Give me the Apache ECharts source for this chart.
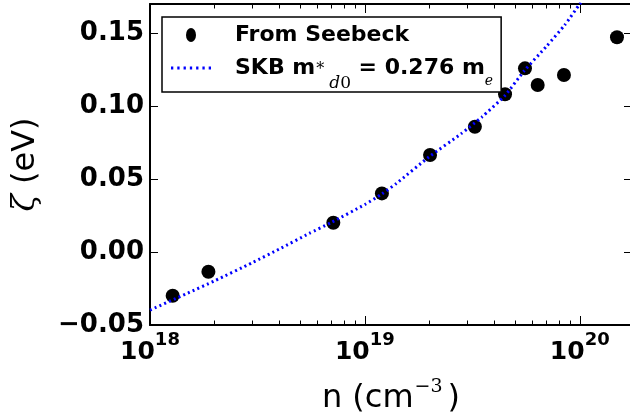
<!DOCTYPE html>
<html><head><meta charset="utf-8">
<script src="https://cdn.jsdelivr.net/npm/echarts@6/dist/echarts.min.js"></script>
<style>html,body{margin:0;padding:0;background:#fff}#c{width:630px;height:412px}</style>
</head><body><div id="c"></div>
<script>
// ---- data ----
const seebeckN    = [1.275e18, 1.87e18, 7.13e18, 1.20e19, 2.01e19, 3.25e19, 4.49e19, 5.56e19, 6.37e19, 8.44e19, 1.49e20];
const seebeckZeta = [-0.0300, -0.0135, 0.0201, 0.0402, 0.0665, 0.0859, 0.1081, 0.1259, 0.1145, 0.1213, 0.1472];
const skbN    = [1e18, 1.5e18, 2e18, 3e18, 4e18, 5.5e18, 7e18, 1e19, 1.2e19, 1.4e19, 2e19, 2.8e19, 3.5e19, 4.5e19, 5.5e19, 7e19, 8.5e19, 1e20, 1.1e20];
const skbZeta = [-0.0398, -0.0281, -0.0197, -0.0072, 0.0021, 0.0127, 0.0204, 0.0326, 0.0398, 0.0470, 0.0655, 0.0810, 0.0925, 0.1075, 0.1240, 0.1410, 0.1555, 0.1700, 0.1780];
const xMajorTicks = [1e18, 1e19, 1e20];
const xMinorTicks = [2e18, 3e18, 4e18, 5e18, 6e18, 7e18, 8e18, 9e18, 2e19, 3e19, 4e19, 5e19, 6e19, 7e19, 8e19, 9e19];
const yTicks = [-0.05, 0, 0.05, 0.10, 0.15];
const xRange = [1e18, 1.75e20];
const yRange = [-0.05, 0.17];
const seriesNames = ['From Seebeck', 'SKB'];

const FONT = 'DejaVu Sans';
const chart = echarts.init(document.getElementById('c'), null, {renderer: 'canvas'});

const tickLine = {color: '#000', width: 1};
const frameLine = {show: true, onZero: false, lineStyle: {color: '#000', width: 2}};
const noLine = {show: false, onZero: false};

function xAxisBase(pos) {
  return {
    type: 'log', logBase: 10, gridIndex: 0, position: pos,
    min: xRange[0], max: xRange[1],
    splitLine: {show: false}, minorTick: {show: false}, minorSplitLine: {show: false},
    axisLabel: {show: false}, axisLine: noLine
  };
}
function yAxisBase(pos) {
  return {
    type: 'value', gridIndex: 0, position: pos,
    min: yRange[0], max: yRange[1], interval: 0.05,
    splitLine: {show: false}, axisLabel: {show: false}, axisLine: frameLine,
    axisTick: {show: true, inside: true, length: 8, customValues: yTicks, lineStyle: tickLine}
  };
}

const xMain = Object.assign(xAxisBase('bottom'), {
  axisLine: frameLine,
  axisTick: {show: true, inside: true, length: 9, customValues: xMajorTicks, lineStyle: tickLine},
  axisLabel: {
    show: true, customValues: xMajorTicks, margin: 11,
    formatter: function (v) { return '{b|10}{s|' + Math.round(Math.log10(v)) + '}'; },
    rich: {
      b: {fontFamily: FONT, fontWeight: 'bold', fontSize: 25, lineHeight: 32, color: '#000'},
      s: {fontFamily: FONT, fontWeight: 'bold', fontSize: 18, lineHeight: 32, color: '#000', padding: [0, 0, 24, 0]}
    }
  },
  name: '{t|n (cm}{s|\u22123}{t|)}', nameLocation: 'middle', nameGap: 38,
  nameTextStyle: {
    rich: {
      t: {fontFamily: FONT, fontSize: 32, lineHeight: 40, color: '#000'},
      s: {fontFamily: 'DejaVu Serif', fontSize: 19, lineHeight: 40, color: '#000', padding: [0, 5, 22, 1]}
    }
  }
});
const xMinor = Object.assign(xAxisBase('bottom'), {
  axisTick: {show: true, inside: true, length: 4.5, customValues: xMinorTicks, lineStyle: tickLine}
});
const xTop = Object.assign(xAxisBase('top'), {
  axisLine: frameLine,
  axisTick: {show: true, inside: true, length: 9, customValues: xMajorTicks, lineStyle: tickLine}
});
const xTopMinor = Object.assign(xAxisBase('top'), {
  axisTick: {show: true, inside: true, length: 4.5, customValues: xMinorTicks, lineStyle: tickLine}
});

const yMain = Object.assign(yAxisBase('left'), {
  axisLabel: {
    show: true, customValues: yTicks, margin: 6,
    fontFamily: FONT, fontWeight: 'bold', fontSize: 26, color: '#000',
    formatter: function (v) { return v.toFixed(2).replace('-', '\u2212'); }
  },
  name: '{z|\u03b6}{t| (eV)}', nameLocation: 'middle', nameRotate: 90, nameGap: 104,
  nameTextStyle: {
    rich: {
      z: {fontFamily: 'DejaVu Serif', fontStyle: 'italic', fontSize: 32, lineHeight: 40, color: '#000'},
      t: {fontFamily: FONT, fontSize: 32, lineHeight: 40, color: '#000'}
    }
  }
});
const yRight = yAxisBase('right');

// dotted legend swatch (7 short dashes)
const dashIcon = 'path://' + [0, 6, 12, 18, 24, 30, 36].map(function (x) {
  return 'M' + x + ',0h2.2v3h-2.2Z';
}).join('');

const option = {
  backgroundColor: '#fff',
  animation: false,
  grid: {left: 150, top: 4, width: 482, height: 321, containLabel: false, outerBoundsMode: 'none'},
  xAxis: [xMain, xMinor, xTop, xTopMinor],
  yAxis: [yMain, yRight],
  legend: {
    orient: 'vertical', left: 162, top: 17,
    padding: [7, 8, 0, 9], itemGap: 11, itemWidth: 40, itemHeight: 14,
    borderColor: '#000', borderWidth: 1.5, borderRadius: 0, backgroundColor: '#fff',
    selectedMode: false,
    data: [
      {name: seriesNames[0], icon: 'path://M5,0 A5,7 0 1 1 5,14 A5,7 0 1 1 5,0 Z', itemStyle: {color: '#000', opacity: 1}},
      {name: seriesNames[1], icon: dashIcon, itemStyle: {color: '#0000ff'}}
    ],
    formatter: function (name) {
      if (name === seriesNames[0]) return '{t0|From Seebeck}';
      return '{t0|SKB m}{sup|*}{sd|d}{s0|0}{t| = 0.276 m}{se|e}';
    },
    textStyle: {
      rich: {
        t0: {fontFamily: FONT, fontWeight: 'bold', fontSize: 22, lineHeight: 28, color: '#000', padding: [0, 0, 0, 19]},
        t: {fontFamily: FONT, fontWeight: 'bold', fontSize: 22, lineHeight: 28, color: '#000'},
        sup: {fontFamily: 'DejaVu Serif', fontSize: 16, lineHeight: 28, color: '#000', padding: [3, 1, 0, 1]},
        sd: {fontFamily: 'DejaVu Serif', fontStyle: 'italic', fontSize: 17, lineHeight: 28, height: -3, verticalAlign: 'bottom', color: '#000', padding: [0, 0, 0, 4]},
        s0: {fontFamily: 'DejaVu Serif', fontSize: 17, lineHeight: 28, height: -3, verticalAlign: 'bottom', color: '#000'},
        se: {fontFamily: 'DejaVu Serif', fontStyle: 'italic', fontSize: 14, lineHeight: 28, height: 2, verticalAlign: 'bottom', color: '#000'}
      }
    }
  },
  series: [
    {
      name: seriesNames[0], type: 'scatter', xAxisIndex: 0, yAxisIndex: 0,
      symbol: 'circle', symbolSize: 14, z: 2,
      itemStyle: {color: '#000', opacity: 1},
      data: seebeckN.map(function (n, i) { return [n, seebeckZeta[i]]; })
    },
    {
      name: seriesNames[1], type: 'line', xAxisIndex: 0, yAxisIndex: 0,
      symbol: 'none', showSymbol: false, smooth: 0.2, z: 3, clip: true,
      lineStyle: {color: '#0000ff', width: 3, type: [2, 3.2], cap: 'butt'},
      itemStyle: {color: '#0000ff'},
      data: skbN.map(function (n, i) { return [n, skbZeta[i]]; })
    }
  ]
};
chart.setOption(option);
</script>
</body></html>
